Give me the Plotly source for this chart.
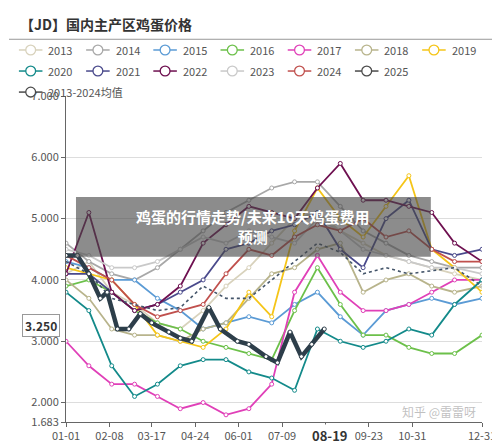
import plotly.graph_objects as go

days = [0,20,40,60,80,100,120,140,160,180,200,220,240,260,280,300,320,340,364]
years = ["2013","2014","2015","2016","2017","2018","2019","2020","2021","2022","2023","2024"]
colors = ["#d8d2bc","#a8a8a8","#5b9bd5","#6cc04a","#e040b8","#b8b48c","#f5c518","#138a8a","#4a4a8c","#6e1050","#c9c9c9","#c0504d"]
v2013 = [4.1,4.3,3.8,3.6,3.3,3.2,3.5,3.9,4.2,4.6,5.0,5.1,4.8,4.6,4.4,4.3,4.2,4.1,4.0]
v2014 = [4.6,4.3,4.1,4.0,4.2,4.5,4.8,5.1,5.3,5.5,5.6,5.6,5.2,4.8,4.6,4.4,4.3,4.2,4.2]
v2015 = [4.3,4.2,4.0,4.0,3.7,3.5,3.2,3.3,3.4,3.3,3.6,3.8,3.4,3.1,3.5,3.6,3.7,3.6,3.7]
v2016 = [3.9,4.0,3.8,3.5,3.3,3.2,3.0,2.9,2.8,2.7,3.5,4.2,3.6,3.1,3.1,2.9,2.8,2.8,3.1]
v2017 = [3.0,2.6,2.3,2.3,2.1,1.9,2.0,1.8,1.9,2.3,3.8,4.4,3.8,3.5,3.5,3.6,3.8,4.0,4.0]
v2018 = [4.0,3.7,3.2,3.1,3.1,3.0,3.2,3.3,3.7,4.1,4.2,4.5,4.6,3.8,4.0,4.1,3.9,3.8,3.9]
v2019 = [4.2,4.1,4.0,3.6,3.1,3.0,2.9,3.2,3.8,3.4,4.8,5.5,5.0,4.7,5.2,5.7,4.5,4.2,3.8]
v2020 = [3.8,3.5,2.6,2.1,2.3,2.6,2.7,2.7,2.5,2.4,2.2,3.2,3.0,2.9,3.0,3.2,3.1,3.6,4.0]
v2021 = [4.1,4.1,3.8,3.5,3.6,3.8,4.0,4.5,4.6,4.8,4.9,5.1,4.5,4.2,5.0,5.3,4.5,4.4,4.5]
v2022 = [4.1,5.1,3.8,3.5,3.6,3.9,4.6,4.9,5.2,5.1,5.0,5.5,5.9,5.3,5.3,5.2,5.1,4.6,4.3]
v2023 = [4.5,4.4,4.2,4.2,4.3,4.5,4.7,4.6,4.8,4.7,4.6,5.0,4.8,4.5,4.4,4.3,4.2,4.2,4.1]
v2024 = [4.4,4.2,4.0,3.6,3.4,3.5,3.6,4.1,4.5,4.4,4.7,4.9,4.8,5.0,4.7,4.8,4.5,4.3,4.3]
vavg = [4.3,4.1,3.7,3.6,3.5,3.55,3.9,3.7,3.7,4.0,4.3,4.6,4.45,4.1,4.2,4.1,4.15,4.2,3.9]
days25 = [0,10,20,30,36,45,55,65,75,90,100,110,125,135,150,160,175,185,196,206,215,226]
v2025 = [4.4,4.4,4.1,3.7,3.8,3.2,3.2,3.45,3.3,3.15,3.05,3.0,3.55,3.2,3.0,2.95,2.75,2.65,3.15,2.75,2.95,3.2]
series = [v2013,v2014,v2015,v2016,v2017,v2018,v2019,v2020,v2021,v2022,v2023,v2024]

tick_days = [0,38,75,113,151,189,227,265,303,364]
tick_text = ["01-01","02-08","03-17","04-24","06-01","07-09","","09-23","10-31","12-31"]
y_ticks = [1.683,2,3,4,5,6,7]

fig = go.Figure()
for name, c, v in zip(years, colors, series):
    fig.add_trace(go.Scatter(x=days, y=v, name=name, mode="lines+markers",
        line=dict(color=c, width=1.8), marker=dict(symbol="circle", size=4, color="white", line=dict(color=c, width=1))))
fig.add_trace(go.Scatter(x=days, y=vavg, name="2013-2024均值", mode="lines",
    line=dict(color="#44556a", width=1.6, dash="dot")))
fig.add_trace(go.Scatter(x=days25, y=v2025, name="2025", mode="lines+markers",
    line=dict(color="#2d3e4a", width=4.5), marker=dict(size=4, color="white", line=dict(color="#2d3e4a", width=1))))

PW, PH, L, T = 424, 333, 58, 88
def px(x): return (x - L) / PW
def py(y): return (T + PH - y) / PH

# legend drawn manually, laid out like the reference (7 / 6 / 1)
leg_names = years + ["2025", "2013-2024均值"]
leg_colors = colors + ["#4a4a4a", "#4a4a4a"]
for i, (n, c) in enumerate(zip(leg_names, leg_colors)):
    if i < 7:
        row, col = 0, i
    elif i < 13:
        row, col = 1, i - 7
    else:
        row, col = 2, 0
    x0 = 10 + 68.5 * col
    yy = 41 + 21.5 * row
    fig.add_shape(type="line", xref="paper", yref="paper", x0=px(x0), x1=px(x0 + 24), y0=py(yy), y1=py(yy),
                  line=dict(color=c, width=1.5))
    fig.add_shape(type="circle", xref="paper", yref="paper", x0=px(x0 + 7), x1=px(x0 + 17),
                  y0=py(yy + 5), y1=py(yy - 5), fillcolor="white", line=dict(color=c, width=1.3))
    fig.add_annotation(xref="paper", yref="paper", x=px(x0 + 28), y=py(yy), xanchor="left", yanchor="middle",
                       text=n, showarrow=False, font=dict(size=11, color="#555"))

fig.update_layout(
    width=500, height=447, margin=dict(l=L, r=18, t=T, b=26),
    paper_bgcolor="white", plot_bgcolor="white",
    font=dict(family="Noto Sans CJK SC", size=11, color="#555"),
    showlegend=False,
    xaxis=dict(range=[0,364], tickvals=tick_days, ticktext=tick_text, showgrid=False,
               showline=True, linecolor="#666", ticks="outside", ticklen=4, tickcolor="#666",
               tickfont=dict(size=11, color="#555"), zeroline=False),
    yaxis=dict(range=[1.683,7.0], tickvals=y_ticks, ticktext=[f"{t:.3f}" for t in y_ticks],
               showgrid=True, gridcolor="#dddddd", showline=True, linecolor="#666",
               ticks="outside", ticklen=4, tickcolor="#666", tickfont=dict(size=11, color="#555"), zeroline=False),
)
fig.add_annotation(xref="paper", yref="paper", x=-0.115, y=1.222, xanchor="left", yanchor="middle",
    text="<b>【JD】国内主产区鸡蛋价格</b>", showarrow=False, font=dict(size=14, color="#333"))
fig.add_shape(type="line", xref="paper", yref="paper", x0=-0.137, x1=1.04, y0=1.174, y1=1.174,
    line=dict(color="#999", width=1))
fig.add_shape(type="rect", xref="paper", yref="paper", x0=0.024, x1=0.877, y0=0.507, y1=0.69,
    fillcolor="rgba(70,70,70,0.62)", line=dict(width=0), layer="above")
fig.add_annotation(xref="paper", yref="paper", x=0.45, y=0.60, text="<b>鸡蛋的行情走势/未来10天鸡蛋费用<br>预测</b>",
    showarrow=False, font=dict(size=15, color="white"), align="center")
fig.add_annotation(xref="paper", yref="y", x=-0.015, y=3.25, xanchor="right", text="<b>3.250</b>",
    showarrow=False, font=dict(size=12, color="#333"), bgcolor="white", bordercolor="#999", borderwidth=1, borderpad=2)
fig.add_annotation(xref="x", yref="paper", x=231, y=-0.005, yanchor="top", text="<b>08-19</b>",
    showarrow=False, font=dict(size=13, color="#333"), bgcolor="white", borderpad=1)
fig.add_annotation(xref="paper", yref="paper", x=0.99, y=0.0, xanchor="right", yanchor="bottom",
    text="知乎 @雷雷呀", showarrow=False, font=dict(size=12, color="rgba(150,150,150,0.6)"))
fig.write_html("out.html")
